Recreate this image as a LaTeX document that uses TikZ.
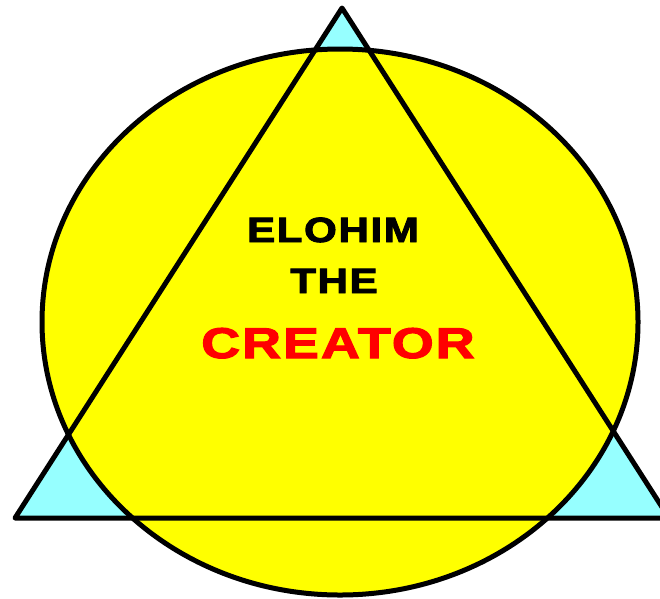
\documentclass[tikz,border=0pt]{standalone}
\usepackage{fontspec}
\setmainfont{Liberation Sans}
\newfontfamily\signfont[LetterSpace=4, FakeBold=2.5]{Liberation Sans}
\definecolor{signyellow}{RGB}{255,255,0}
\definecolor{signcyan}{RGB}{150,255,255}

\begin{document}
\begin{tikzpicture}[
  x=1pt, y=-1pt,
  outline/.style={draw=black, line width=5pt, line join=round},
  word/.style={anchor=base, inner sep=0pt, xscale=1.2},
]
\useasboundingbox (0,0) rectangle (660,598);
\clip (0,0) rectangle (660,598);
% --- Triangle and circle ---
\coordinate (apex) at (342,8);
\coordinate (left) at (15,518);
\coordinate (right) at (669,518);
\coordinate (mid) at (340,322);
\fill[signcyan] (apex) -- (left) -- (right) -- cycle;
\fill[signyellow] (mid) ellipse [x radius=298, y radius=273];
\draw[outline] (mid) ellipse [x radius=298, y radius=273];
\draw[outline] (apex) -- (left) -- (right) -- cycle;
% --- Text ---
\node[word, font=\signfont\bfseries\fontsize{35}{35}\selectfont] (elohim) at (333,242) {ELOHIM};
\node[word, font=\signfont\bfseries\fontsize{35}{35}\selectfont] (the) at (334,293) {THE};
\node[word, xscale=1.04, text=red, font=\signfont\bfseries\fontsize{43}{43}\selectfont] (creator) at (338,358) {CREATOR};
\end{tikzpicture}
\end{document}
